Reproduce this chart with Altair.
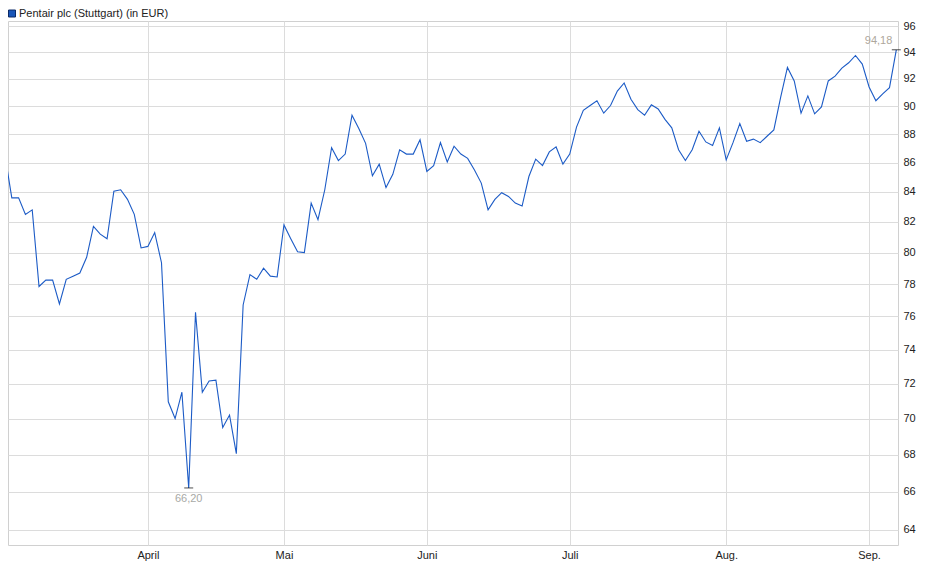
import altair as alt
import pandas as pd

# Closing prices (EUR), one per trading day, 3 Mar 2025 .. 5 Sep 2025
prices = [
    86.5, 83.6, 83.6, 82.5, 82.8, 77.85, 78.25, 78.25, 76.76, 78.3,
    78.5, 78.7, 79.7, 81.7, 81.2, 80.9, 84.05, 84.15, 83.5, 82.5,
    80.3, 80.4, 81.3, 79.35, 70.95, 70.0, 71.5, 66.2, 76.25, 71.5,
    72.15, 72.2, 69.5, 70.2, 68.05, 76.7, 78.6, 78.3, 79.0, 78.5,
    78.45, 81.8, 80.9, 80.05, 80.0, 83.25, 82.15, 84.15, 87.05, 86.15,
    86.6, 89.35, 88.4, 87.35, 85.1, 85.9, 84.3, 85.2, 86.9, 86.6,
    86.6, 87.6, 85.4, 85.8, 87.4, 86.05, 87.15, 86.6, 86.3, 85.5,
    84.6, 82.8, 83.5, 83.95, 83.7, 83.25, 83.05, 85.05, 86.25, 85.8,
    86.75, 87.1, 85.9, 86.6, 88.5, 89.7, 90.05, 90.4, 89.5, 90.05,
    91.1, 91.7, 90.5, 89.75, 89.35, 90.1, 89.8, 89.05, 88.45, 86.9,
    86.15, 86.9, 88.2, 87.45, 87.2, 88.45, 86.2, 87.4, 88.75, 87.5,
    87.65, 87.4, 87.85, 88.3, 90.65, 92.85, 91.85, 89.5, 90.75, 89.45,
    89.95, 91.85, 92.2, 92.8, 93.2, 93.75, 93.1, 91.4, 90.4, 90.9,
    91.35, 94.18,
]
day_index = list(range(len(prices)))

# Month labels and the trading-day index of each month's first session
month_labels = ["April", "Mai", "Juni", "Juli", "Aug.", "Sep."]
month_index = [21, 41, 62, 83, 106, 127]

# y-axis tick labels
y_ticks = [64, 66, 68, 70, 72, 74, 76, 78, 80, 82, 84, 86, 88, 90, 92, 94, 96]

# extremes annotated on the chart
min_index = [27]
min_value = [66.20]
min_label = ["66,20"]
max_index = [131]
max_value = [94.18]
max_label = ["94,18"]

legend_label = ["Pentair plc (Stuttgart) (in EUR)"]

FONT = "Liberation Sans"
LINE_COLOR = "#1c5bc6"

df = pd.DataFrame({"i": day_index, "p": prices})
df_min = pd.DataFrame({"i": min_index, "p": min_value, "t": min_label})
df_max = pd.DataFrame({"i": max_index, "p": max_value, "t": max_label})
df_leg = pd.DataFrame({"t": legend_label})

label_expr = ""
for idx, lab in zip(month_index, month_labels):
    label_expr += f"datum.value == {idx} ? '{lab}' : "
label_expr += "''"

x_scale = alt.Scale(domain=[0.44, 131.25], nice=False, zero=False)
y_scale = alt.Scale(type="log", domain=[63.23, 96.387], nice=False, zero=False)

x_enc = alt.X(
    "i:Q",
    scale=x_scale,
    axis=alt.Axis(
        values=month_index,
        labelExpr=label_expr,
        title=None,
        grid=True,
        ticks=False,
        domain=False,
        labelPadding=4,
        labelFlush=False,
    ),
)
y_enc = alt.Y(
    "p:Q",
    scale=y_scale,
    axis=alt.Axis(
        orient="right",
        values=y_ticks,
        format="d",
        title=None,
        grid=True,
        ticks=False,
        domain=False,
        labelPadding=5,
        labelBaseline="middle",
    ),
)

line = alt.Chart(df).mark_line(color=LINE_COLOR, strokeWidth=1.1, clip=True).encode(
    x=x_enc, y=y_enc
)

min_tick = alt.Chart(df_min).mark_tick(
    orient="horizontal", size=9, thickness=1, color="#000000"
).encode(x="i:Q", y="p:Q")
min_text = alt.Chart(df_min).mark_text(
    font=FONT, fontSize=11, color="#a8a9a6", dy=11, align="center", baseline="middle"
).encode(x="i:Q", y="p:Q", text="t:N")

max_tick = alt.Chart(df_max).mark_tick(
    orient="horizontal", size=9, thickness=1, color="#000000"
).encode(x="i:Q", y="p:Q")
max_text = alt.Chart(df_max).mark_text(
    font=FONT, fontSize=11, color="#aea79c", dx=-4, dy=-9, align="right", baseline="middle"
).encode(x="i:Q", y="p:Q", text="t:N")

leg_square = alt.Chart(df_leg).mark_square(
    filled=True, color="#1a56b8", stroke="#0c2a66", strokeWidth=1, size=49, opacity=1
).encode(x=alt.value(4), y=alt.value(-7.5))
leg_text = alt.Chart(df_leg).mark_text(
    font=FONT, fontSize=11, color="#222222", align="left", baseline="middle"
).encode(x=alt.value(11), y=alt.value(-7), text="t:N")

chart = (
    alt.layer(line, min_tick, min_text, max_tick, max_text, leg_square, leg_text)
    .properties(
        width=890,
        height=524,
        autosize=alt.AutoSizeParams(type="none"),
        padding={"left": 0, "top": 13, "right": 26, "bottom": 22},
        background="#ffffff",
    )
    .configure_view(stroke="#d0d0d0", strokeWidth=1)
    .configure_axis(
        gridColor="#dcdcdc",
        gridWidth=1,
        labelFont=FONT,
        labelFontSize=11,
        labelColor="#222222",
    )
)

chart.save("out.html", embed_options={"renderer": "svg", "actions": False})
